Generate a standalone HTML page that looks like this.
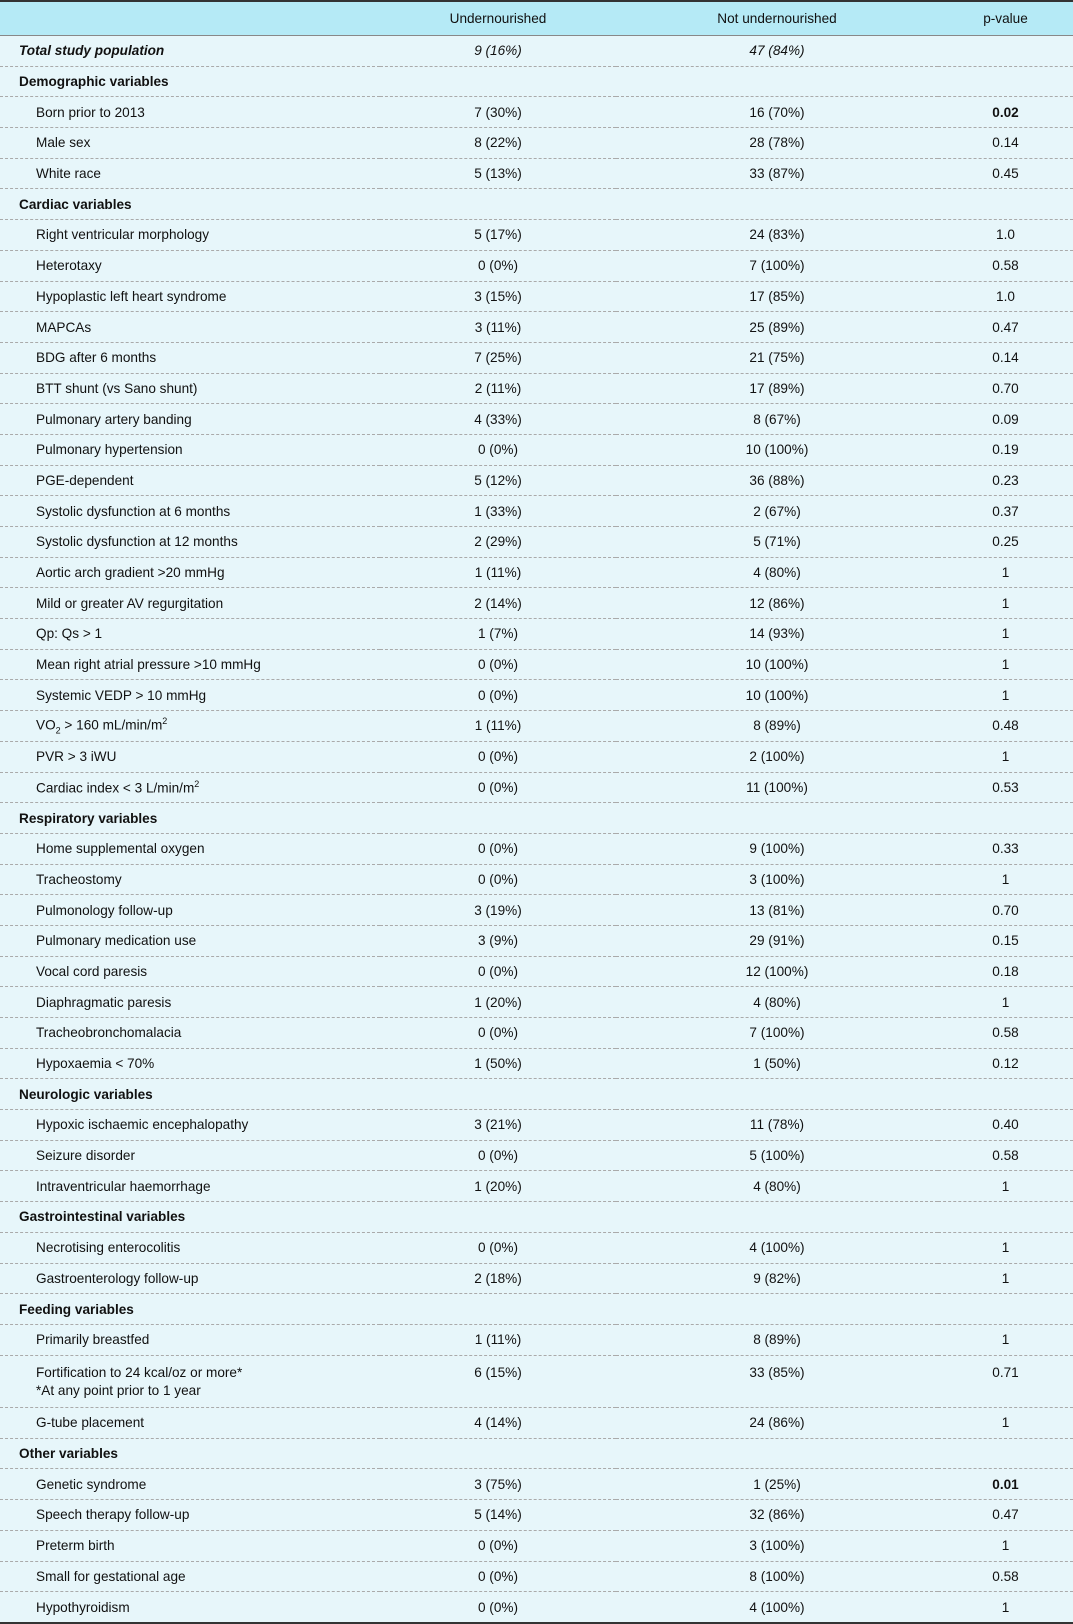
<!DOCTYPE html>
<html><head><meta charset="utf-8"><style>
body{margin:0;width:1073px;height:1619px;background:#fff;font-family:"Liberation Sans","DejaVu Sans",sans-serif;font-size:13.6px;color:#111;}
table{position:absolute;left:0;top:0;width:1073px;border-collapse:collapse;border-top:2px solid #333;border-bottom:2px solid #333;}
th{background:#b5eaf6;font-weight:normal;height:31px;border-bottom:1px solid #888;text-align:center;}
td{background:#e7f6fa;height:29.7px;border-bottom:1px dashed #aaa;padding:0;text-align:center;}
td.l{text-align:left;padding-left:36px;}
td.h{text-align:left;padding-left:19px;font-weight:bold;}
td.t{text-align:left;padding-left:19px;font-weight:bold;font-style:italic;}
tr:last-child td{border-bottom:none;}
.i{font-style:italic}
.f{vertical-align:top;padding-top:8px;line-height:18px}
</style></head><body>
<table>
<colgroup><col style="width:380px"><col style="width:236px"><col style="width:322px"><col></colgroup>
<tr><th></th><th>Undernourished</th><th>Not undernourished</th><th>p-value</th></tr>
<tr><td class="t">Total study population</td><td class="i">9 (16%)</td><td class="i">47 (84%)</td><td></td></tr>
<tr><td class="h">Demographic variables</td><td></td><td></td><td></td></tr>
<tr><td class="l">Born prior to 2013</td><td>7 (30%)</td><td>16 (70%)</td><td><b>0.02</b></td></tr>
<tr><td class="l">Male sex</td><td>8 (22%)</td><td>28 (78%)</td><td>0.14</td></tr>
<tr><td class="l">White race</td><td>5 (13%)</td><td>33 (87%)</td><td>0.45</td></tr>
<tr><td class="h">Cardiac variables</td><td></td><td></td><td></td></tr>
<tr><td class="l">Right ventricular morphology</td><td>5 (17%)</td><td>24 (83%)</td><td>1.0</td></tr>
<tr><td class="l">Heterotaxy</td><td>0 (0%)</td><td>7 (100%)</td><td>0.58</td></tr>
<tr><td class="l">Hypoplastic left heart syndrome</td><td>3 (15%)</td><td>17 (85%)</td><td>1.0</td></tr>
<tr><td class="l">MAPCAs</td><td>3 (11%)</td><td>25 (89%)</td><td>0.47</td></tr>
<tr><td class="l">BDG after 6 months</td><td>7 (25%)</td><td>21 (75%)</td><td>0.14</td></tr>
<tr><td class="l">BTT shunt (vs Sano shunt)</td><td>2 (11%)</td><td>17 (89%)</td><td>0.70</td></tr>
<tr><td class="l">Pulmonary artery banding</td><td>4 (33%)</td><td>8 (67%)</td><td>0.09</td></tr>
<tr><td class="l">Pulmonary hypertension</td><td>0 (0%)</td><td>10 (100%)</td><td>0.19</td></tr>
<tr><td class="l">PGE-dependent</td><td>5 (12%)</td><td>36 (88%)</td><td>0.23</td></tr>
<tr><td class="l">Systolic dysfunction at 6 months</td><td>1 (33%)</td><td>2 (67%)</td><td>0.37</td></tr>
<tr><td class="l">Systolic dysfunction at 12 months</td><td>2 (29%)</td><td>5 (71%)</td><td>0.25</td></tr>
<tr><td class="l">Aortic arch gradient &gt;20 mmHg</td><td>1 (11%)</td><td>4 (80%)</td><td>1</td></tr>
<tr><td class="l">Mild or greater AV regurgitation</td><td>2 (14%)</td><td>12 (86%)</td><td>1</td></tr>
<tr><td class="l">Qp: Qs &gt; 1</td><td>1 (7%)</td><td>14 (93%)</td><td>1</td></tr>
<tr><td class="l">Mean right atrial pressure &gt;10 mmHg</td><td>0 (0%)</td><td>10 (100%)</td><td>1</td></tr>
<tr><td class="l">Systemic VEDP &gt; 10 mmHg</td><td>0 (0%)</td><td>10 (100%)</td><td>1</td></tr>
<tr><td class="l">VO<sub style="font-size:9px">2</sub> &gt; 160 mL/min/m<sup style="font-size:9px">2</sup></td><td>1 (11%)</td><td>8 (89%)</td><td>0.48</td></tr>
<tr><td class="l">PVR &gt; 3 iWU</td><td>0 (0%)</td><td>2 (100%)</td><td>1</td></tr>
<tr><td class="l">Cardiac index &lt; 3 L/min/m<sup style="font-size:9px">2</sup></td><td>0 (0%)</td><td>11 (100%)</td><td>0.53</td></tr>
<tr><td class="h">Respiratory variables</td><td></td><td></td><td></td></tr>
<tr><td class="l">Home supplemental oxygen</td><td>0 (0%)</td><td>9 (100%)</td><td>0.33</td></tr>
<tr><td class="l">Tracheostomy</td><td>0 (0%)</td><td>3 (100%)</td><td>1</td></tr>
<tr><td class="l">Pulmonology follow-up</td><td>3 (19%)</td><td>13 (81%)</td><td>0.70</td></tr>
<tr><td class="l">Pulmonary medication use</td><td>3 (9%)</td><td>29 (91%)</td><td>0.15</td></tr>
<tr><td class="l">Vocal cord paresis</td><td>0 (0%)</td><td>12 (100%)</td><td>0.18</td></tr>
<tr><td class="l">Diaphragmatic paresis</td><td>1 (20%)</td><td>4 (80%)</td><td>1</td></tr>
<tr><td class="l">Tracheobronchomalacia</td><td>0 (0%)</td><td>7 (100%)</td><td>0.58</td></tr>
<tr><td class="l">Hypoxaemia &lt; 70%</td><td>1 (50%)</td><td>1 (50%)</td><td>0.12</td></tr>
<tr><td class="h">Neurologic variables</td><td></td><td></td><td></td></tr>
<tr><td class="l">Hypoxic ischaemic encephalopathy</td><td>3 (21%)</td><td>11 (78%)</td><td>0.40</td></tr>
<tr><td class="l">Seizure disorder</td><td>0 (0%)</td><td>5 (100%)</td><td>0.58</td></tr>
<tr><td class="l">Intraventricular haemorrhage</td><td>1 (20%)</td><td>4 (80%)</td><td>1</td></tr>
<tr><td class="h">Gastrointestinal variables</td><td></td><td></td><td></td></tr>
<tr><td class="l">Necrotising enterocolitis</td><td>0 (0%)</td><td>4 (100%)</td><td>1</td></tr>
<tr><td class="l">Gastroenterology follow-up</td><td>2 (18%)</td><td>9 (82%)</td><td>1</td></tr>
<tr><td class="h">Feeding variables</td><td></td><td></td><td></td></tr>
<tr><td class="l">Primarily breastfed</td><td>1 (11%)</td><td>8 (89%)</td><td>1</td></tr>
<tr><td class="l f" style="height:43.5px">Fortification to 24 kcal/oz or more*<br>*At any point prior to 1 year</td><td class="f">6 (15%)</td><td class="f">33 (85%)</td><td class="f">0.71</td></tr>
<tr><td class="l">G-tube placement</td><td>4 (14%)</td><td>24 (86%)</td><td>1</td></tr>
<tr><td class="h">Other variables</td><td></td><td></td><td></td></tr>
<tr><td class="l">Genetic syndrome</td><td>3 (75%)</td><td>1 (25%)</td><td><b>0.01</b></td></tr>
<tr><td class="l">Speech therapy follow-up</td><td>5 (14%)</td><td>32 (86%)</td><td>0.47</td></tr>
<tr><td class="l">Preterm birth</td><td>0 (0%)</td><td>3 (100%)</td><td>1</td></tr>
<tr><td class="l">Small for gestational age</td><td>0 (0%)</td><td>8 (100%)</td><td>0.58</td></tr>
<tr><td class="l">Hypothyroidism</td><td>0 (0%)</td><td>4 (100%)</td><td>1</td></tr>
</table>
</body></html>
